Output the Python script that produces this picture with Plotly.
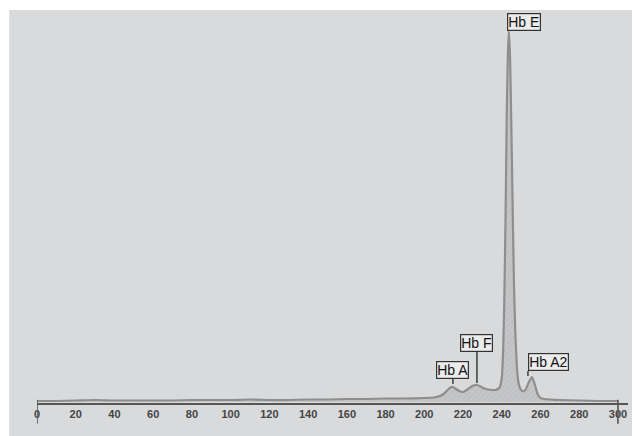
import plotly.graph_objects as go

# Migration position (x) and signal height (arbitrary units ~ px above baseline)
pos = [0, 10, 20, 30, 40, 50, 60, 70, 80, 90, 100, 110, 120, 130, 140, 150, 160, 170,
       180, 190, 200, 205, 208, 210, 212, 213.5, 214.8, 216, 218, 220, 222, 224, 225.5,
       227.2, 229, 231, 233, 235, 236.5, 238, 239, 240, 240.7, 241.3, 242, 242.6, 243.2,
       243.7, 244.3, 245, 245.6, 246.3, 247, 247.7, 248.3, 249.2, 250.5, 251.5, 252.5,
       254, 255.6, 257, 258.5, 260, 262, 265, 270, 280, 290, 300]
signal = [1, 1, 1.5, 2, 1.5, 1.5, 1.5, 1.5, 2, 2, 2, 2.5, 2, 2, 2.5, 2.5, 3, 3,
          3.5, 3.5, 4, 4.5, 6, 8, 12, 14.5, 15, 13.5, 11, 10, 12, 15, 16.5,
          17, 15.5, 13.5, 12.5, 12, 12, 13, 15, 24, 50, 100, 190, 290, 350,
          371, 345, 270, 200, 120, 70, 40, 24, 15, 11, 11, 13,
          20, 25, 18, 8, 4, 3, 2.5, 2, 1.5, 1, 1]

peak_names = ["Hb A", "Hb F", "Hb E", "Hb A2"]
peak_pos = [214.8, 227.2, 243.7, 255.6]
peak_val = [15, 17, 371, 25]

tick_vals = list(range(0, 301, 20))
tick_text = [str(v) for v in tick_vals]
end_marks = [0, 300]

fig = go.Figure()

fig.add_trace(go.Scatter(
    x=pos, y=signal, mode="lines",
    line=dict(color="#8e8e8e", width=2.2, shape="spline", smoothing=0.5),
    fill="tozeroy", fillcolor="rgba(150,150,150,0.30)",
    fillpattern=dict(shape="/", fgcolor="rgba(120,120,120,0.35)", size=4, solidity=0.2),
    hoverinfo="skip", showlegend=False,
))

box_style = dict(font=dict(family="Liberation Sans", size=14, color="#111111"),
                 bgcolor="#ececec", bordercolor="#333333", borderwidth=1.2, borderpad=0)

# Hb A (centered, short leader)
fig.add_annotation(x=peak_pos[0], y=peak_val[0], text=peak_names[0], showarrow=True,
                   arrowhead=0, arrowwidth=1.4, arrowcolor="#333333", ax=0, ay=-17,
                   standoff=3, **box_style)
# Hb F (centered, long leader)
fig.add_annotation(x=peak_pos[1], y=peak_val[1], text=peak_names[1], showarrow=True,
                   arrowhead=0, arrowwidth=1.4, arrowcolor="#333333", ax=0, ay=-42,
                   standoff=2, **box_style)
# Hb E (box sits on the peak tip)
fig.add_annotation(x=peak_pos[2], y=peak_val[2], text=peak_names[2], showarrow=False,
                   xanchor="left", yanchor="bottom", xshift=-2, yshift=0, **box_style)
# Hb A2 (box to the right, short tick)
fig.add_annotation(x=peak_pos[3], y=peak_val[3], text=peak_names[3], showarrow=True,
                   arrowhead=0, arrowwidth=1.4, arrowcolor="#333333", ax=0, ay=-6,
                   xanchor="left", yanchor="bottom", standoff=1, xshift=-4, **box_style)

shapes = [dict(type="rect", xref="paper", yref="paper", x0=-0.047, x1=1.03,
               y0=-0.09, y1=1.0, fillcolor="#d9dadc", line=dict(width=0), layer="below")]
# end tick marks crossing the axis
for v in end_marks:
    shapes.append(dict(type="line", xref="x", yref="paper", x0=v, x1=v,
                       y0=-0.053, y1=0.008, line=dict(color="#555555", width=1.6)))

fig.update_layout(
    width=632, height=428,
    margin=dict(l=29, r=12, t=2, b=33),
    paper_bgcolor="white", plot_bgcolor="rgba(0,0,0,0)",
    shapes=shapes,
    xaxis=dict(range=[0, 305.2], showgrid=False, zeroline=False, showline=True,
               linecolor="#555555", linewidth=1.6, tickmode="array", tickvals=tick_vals,
               ticktext=tick_text, ticks="", automargin=False,
               tickfont=dict(family="Liberation Sans", size=11, color="#444444",
                             weight="bold")),
    yaxis=dict(range=[-1, 392], visible=False),
)

fig.write_html("out.html")
